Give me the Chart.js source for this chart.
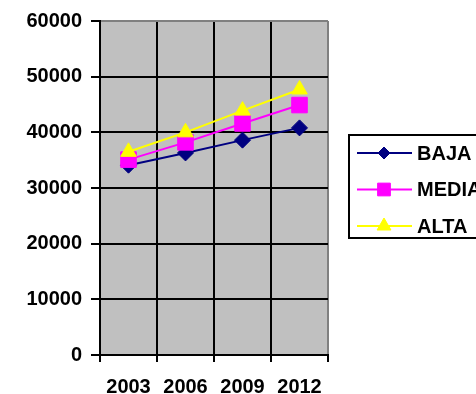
<!DOCTYPE html>
<html>
<head>
<meta charset="utf-8">
<script src="https://cdn.jsdelivr.net/npm/chart.js@4.4.0/dist/chart.umd.min.js"></script>
<style>
  html, body { margin: 0; padding: 0; background: #fff; overflow: hidden; }
  #wrap { width: 476px; height: 394px; }
</style>
</head>
<body>
<div id="wrap"><canvas id="chart" width="476" height="394"></canvas></div>
<script>
const years = ['2003', '2006', '2009', '2012'];
const baja = [34100, 36300, 38600, 40800];
const media = [35100, 38200, 41600, 44900];
const alta = [36500, 40000, 43900, 47700];
const seriesNames = ['BAJA', 'MEDIA', 'ALTA'];
const yMax = 60000;
const yStep = 10000;

const FONT = '"Liberation Sans", Arial, sans-serif';

// gray plot background
const plotBg = {
    id: 'plotBg',
    beforeDraw(chart) {
        const { ctx, chartArea: a } = chart;
        ctx.save();
        ctx.fillStyle = '#C0C0C0';
        ctx.fillRect(a.left, a.top, a.right - a.left, a.bottom - a.top);
        ctx.restore();
    }
};

// excel style legend: boxed, line + marker, clipped by the window edge
const boxLegend = {
    id: 'boxLegend',
    afterDraw(chart) {
        const ctx = chart.ctx;
        const left = chart.chartArea.right + 21;
        const top = 135, bottom = 238;
        const sizes = [6, 9, 8];
        ctx.save();
        ctx.strokeStyle = '#000';
        ctx.lineWidth = 2;
        ctx.strokeRect(left, top, 200, bottom - top);
        chart.data.datasets.forEach((ds, i) => {
            const y = 153 + i * 36.5;
            ctx.strokeStyle = ds.borderColor;
            ctx.lineWidth = 2;
            ctx.beginPath();
            ctx.moveTo(left + 8, y);
            ctx.lineTo(left + 63, y);
            ctx.stroke();
            if (Chart.helpers && Chart.helpers.drawPoint) {
                ctx.fillStyle = ds.pointBackgroundColor;
                ctx.strokeStyle = ds.pointBorderColor;
                ctx.lineWidth = 1;
                Chart.helpers.drawPoint(ctx, { pointStyle: ds.pointStyle, radius: sizes[i], borderWidth: 1, rotation: 0 }, left + 35, y);
            }
            ctx.fillStyle = '#000';
            ctx.font = 'bold 20px ' + FONT;
            ctx.textAlign = 'left';
            ctx.textBaseline = 'middle';
            ctx.fillText(ds.label, left + 68, y + 1);
        });
        ctx.restore();
    }
};

function makeSet(label, data, color, style, radius, order) {
    return {
        label: label,
        data: data,
        borderColor: color,
        backgroundColor: color,
        borderWidth: 2,
        pointStyle: style,
        pointRadius: radius,
        pointHoverRadius: radius,
        pointBackgroundColor: color,
        pointBorderColor: color,
        pointBorderWidth: 1,
        tension: 0,
        order: order
    };
}

new Chart(document.getElementById('chart').getContext('2d'), {
    type: 'line',
    data: {
        labels: years,
        datasets: [
            makeSet(seriesNames[0], baja, '#000080', 'rectRot', 8, 2),
            makeSet(seriesNames[1], media, '#FF00FF', 'rect', 11, 1),
            makeSet(seriesNames[2], alta, '#FFFF00', 'triangle', 9, 0)
        ]
    },
    options: {
        responsive: false,
        animation: false,
        layout: { padding: { left: 0, right: 148, top: 20, bottom: 0 } },
        plugins: {
            legend: { display: false },
            tooltip: { enabled: false },
            title: { display: false }
        },
        scales: {
            x: {
                offset: true,
                grid: {
                    offset: true,
                    color: c => c.tick ? '#000' : '#808080',
                    tickColor: '#000',
                    lineWidth: 2,
                    tickLength: 7
                },
                border: { color: '#000', width: 2 },
                ticks: {
                    color: '#000',
                    padding: 13,
                    maxRotation: 0,
                    font: { family: FONT, size: 20, weight: 'bold' }
                },
                afterFit: s => { s.height = 39; }
            },
            y: {
                min: 0,
                max: yMax,
                grid: {
                    color: c => (c.tick && c.tick.value === yMax) ? '#808080' : '#000',
                    tickColor: '#000',
                    lineWidth: 2,
                    tickLength: 9
                },
                border: { color: '#000', width: 2 },
                ticks: {
                    stepSize: yStep,
                    color: '#000',
                    padding: 9,
                    callback: v => String(v),
                    font: { family: FONT, size: 20, weight: 'bold' }
                },
                afterFit: s => { s.width = 100; }
            }
        }
    },
    plugins: [plotBg, boxLegend]
});
</script>
</body>
</html>
